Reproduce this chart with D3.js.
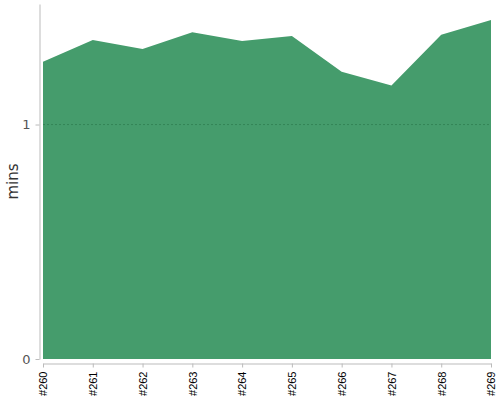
<!DOCTYPE html>
<html>
<head>
<meta charset="utf-8">
<script src="https://cdn.jsdelivr.net/npm/d3@7"></script>
<style>
  body { margin: 0; background: #fff; }
  svg { display: block; font-family: "DejaVu Sans", sans-serif; }
  .axis path, .axis line { stroke: #bbb; }
  .y-axis text { fill: #555; font-size: 13px; font-family: "DejaVu Sans", sans-serif; }
  .x-axis text { fill: #000; font-size: 11px; font-family: "Liberation Sans", Arial, sans-serif; }
</style>
</head>
<body>
<svg width="500" height="400"></svg>
<script>
// build numbers and durations (minutes)
const builds = ['#260', '#261', '#262', '#263', '#264', '#265', '#266', '#267', '#268', '#269'];
const mins = [1.268, 1.360, 1.322, 1.394, 1.356, 1.377, 1.225, 1.166, 1.383, 1.446];
const yTicks = [0, 1];

const svg = d3.select('svg');
const W = 500, H = 400;
const margin = { top: 4, right: 9, bottom: 41, left: 43 };
const width = W - margin.left - margin.right;
const height = H - margin.top - margin.bottom;

const x = d3.scalePoint()
    .domain(builds)
    .range([0, width]);
const y = d3.scaleLinear()
    .domain([0, d3.max(mins) * 1.047])
    .range([height, 0]);

const g = svg.append('g')
    .attr('transform', 'translate(' + margin.left + ',' + margin.top + ')');

const area = d3.area()
    .x((d, i) => x(builds[i]))
    .y0(height)
    .y1(d => y(d));

g.append('path')
    .datum(mins)
    .attr('fill', '#459c6c')
    .attr('d', area);

// dashed reference line at 1 min
g.append('line')
    .attr('x1', 0)
    .attr('x2', width)
    .attr('y1', y(1))
    .attr('y2', y(1))
    .attr('stroke', '#2f7d50')
    .attr('stroke-width', 1)
    .attr('stroke-dasharray', '2,2')
    .attr('opacity', 0.75);

g.append('g')
    .attr('class', 'axis y-axis')
    .attr('transform', 'translate(-3.5,0)')
    .call(d3.axisLeft(y).tickValues(yTicks).tickFormat(d3.format('d')).tickSizeInner(4).tickSizeOuter(0).tickPadding(5));

const xAxis = g.append('g')
    .attr('class', 'axis x-axis')
    .attr('transform', 'translate(0,' + (height + 4.5) + ')')
    .call(d3.axisBottom(x).tickSizeInner(4).tickSizeOuter(0));
xAxis.selectAll('text')
    .attr('transform', 'rotate(-90)')
    .attr('text-anchor', 'end')
    .attr('x', -8)
    .attr('y', 0)
    .attr('dy', '0.35em');

svg.append('text')
    .attr('transform', 'translate(17.5,' + (margin.top + height / 2) + ') rotate(-90)')
    .attr('text-anchor', 'middle')
    .attr('fill', '#333')
    .attr('font-size', 15)
    .text('mins');
</script>
</body>
</html>
